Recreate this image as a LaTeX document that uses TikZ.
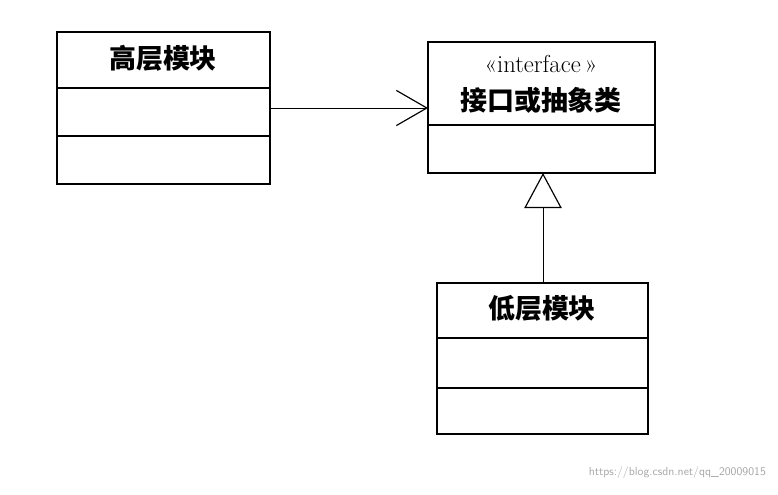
\documentclass[tikz,border=0pt]{standalone}
\usepackage{fontspec}
\usepackage{tikz}
\usetikzlibrary{arrows.meta}
\newfontfamily\cjk{Noto Sans CJK SC}

\tikzset{box/.style={draw=black,line width=1.2pt,fill=white},
  title/.style={font=\cjk\bfseries\fontsize{23}{23}\selectfont}}

\begin{document}
\begin{tikzpicture}[x=0.03cm,y=-0.03cm]
\useasboundingbox (0,0) rectangle (778,494);
% high level module
\draw[box] (57,32) rectangle (270,184);
\draw[line width=1.2pt] (57,88) -- (270,88);
\draw[line width=1.2pt] (57,136) -- (270,136);
\node[title] (high) at (163,58) {高层模块};
\coordinate (hr) at (270,108);

% interface
\draw[box] (428,42) rectangle (655,173);
\draw[line width=1.2pt] (428,125) -- (655,125);
\node[font=\fontsize{21}{21}\selectfont] (ster) at (541,64) {\textless\textless{}interface\,\textgreater\textgreater};
\node[title] (iface) at (541,100) {接口或抽象类};
\coordinate (il) at (428,108);
\coordinate (ib) at (543,173);

% low level module
\draw[box] (437,283) rectangle (648,434);
\draw[line width=1.2pt] (437,338) -- (648,338);
\draw[line width=1.2pt] (437,388) -- (648,388);
\node[title] (low) at (542,308) {低层模块};
\coordinate (lt) at (543,283);

% relations
\draw[line width=0.8pt,-{Straight Barb[length=26pt,width=30pt,line width=1pt]}] (hr) -- (il);
\draw[line width=0.8pt,-{Triangle[open,length=30pt,width=32pt,line width=1pt]}] (lt) -- (ib);

\node[text=gray!70,font=\sffamily\fontsize{10}{10}\selectfont,anchor=east] (wm) at (770,473) {https://blog.csdn.net/qq\_20009015};
\end{tikzpicture}
\end{document}
